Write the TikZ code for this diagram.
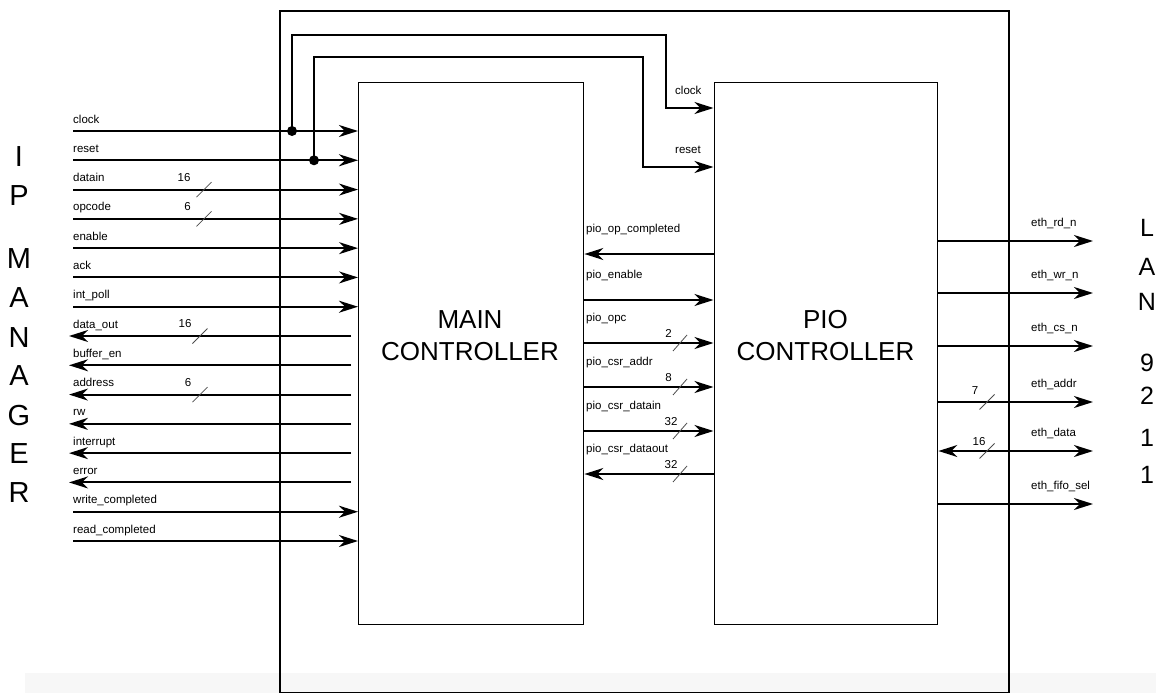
\documentclass[tikz,border=0pt]{standalone}
\usepackage{fontspec}
\setmainfont{Liberation Sans}
\usetikzlibrary{arrows.meta,calc}
\tikzset{
  sig/.style={line width=2pt},
  arr/.style={-{Stealth[length=19pt,width=12pt,inset=6pt]}},
  arrb/.style={{Stealth[length=19pt,width=12pt,inset=6pt]}-{Stealth[length=19pt,width=12pt,inset=6pt]}},
  blk/.style={draw, line width=1.4pt, inner sep=0pt, anchor=north west, minimum height=542pt},
  lbl/.style={font=\fontsize{11.5}{13}\selectfont, inner sep=0pt},
  big/.style={font=\fontsize{26}{32}\selectfont, inner sep=0pt, anchor=base},
  side/.style={font=\fontsize{29}{30}\selectfont, inner sep=0pt, anchor=base},
  sider/.style={font=\fontsize{25}{30}\selectfont, inner sep=0pt, anchor=base},
  bus/.style={line width=0.8pt, gray!60!black},
  dotc/.style={circle, fill=black, minimum size=10pt, inner sep=0pt}
}
\begin{document}
\begin{tikzpicture}[x=1pt,y=-1pt]
\useasboundingbox (0,0) rectangle (1156,693);
% faint band at the bottom
\fill[black!3] (25,673) rectangle (1156,693);
% outer frame
\node[draw, line width=2.4pt, inner sep=0pt, anchor=north west, minimum width=729pt, minimum height=682pt] (outer) at (279,10) {};
% blocks
\node[blk, minimum width=225pt] (main) at (358,82) {};
\node[blk, minimum width=223.5pt] (pio) at (713.5,82) {};
\node[big] (mainA) at (470,328) {MAIN};
\node[big] (mainB) at (470,360) {CONTROLLER};
\node[big] (pioA) at (825.5,328) {PIO};
\node[big] (pioB) at (825.5,360) {CONTROLLER};
% side titles
\foreach \c/\yy [count=\k] in {I/166,P/205,M/268,A/307,N/347,A/385,G/425,E/463,R/502}
  \node[side] (ip\k) at (19,\yy) {\c};
\foreach \c/\yy [count=\k] in {L/236,A/275,N/310,9/371,2/404,1/446,1/483}
  \node[sider] (lan\k) at (1147,\yy) {\c};
% left inputs
\foreach \i/\txt in {0/clock,1/reset,2/datain,3/opcode,4/enable,5/ack,6/int\_poll,13/write\_completed,14/read\_completed}{
  \pgfmathsetmacro\yy{131+29.286*\i}
  \coordinate (l\i) at (73,\yy);
  \node[lbl, anchor=base west] (lt\i) at (73,\yy-8) {\txt};
  \draw[sig,arr] (l\i) -- (l\i -| main.west);
}
% left outputs
\foreach \i/\txt in {7/data\_out,8/buffer\_en,9/address,10/rw,11/interrupt,12/error}{
  \pgfmathsetmacro\yy{131+29.286*\i}
  \coordinate (l\i) at (69,\yy);
  \coordinate (s\i) at ($(l\i -| main.west)+(-7,0)$);
  \node[lbl, anchor=base west] (lt\i) at (73,\yy-8) {\txt};
  \draw[sig,arr] (s\i) -- (l\i);
}
% bus widths on the left
\foreach \i/\n/\nx in {2/16/184,3/6/187.5,7/16/185,9/6/188}{
  \pgfmathsetmacro\yy{131+29.286*\i}
  \draw[bus] ($(l\i)+(123.5,7.5)$) -- ($(l\i)+(138.5,-7.5)$);
  \node[lbl] (ln\i) at (\nx,\yy-12) {\n};
}
% clock and reset to the PIO controller
\node[dotc] (dck) at (292,131) {};
\node[dotc] (drs) at (314,160.29) {};
\coordinate (ckt) at (666,35);
\coordinate (ckp) at (666,108);
\coordinate (rst) at (643,57);
\coordinate (rsp) at (643,167);
\draw[sig,arr] (dck.center) |- (ckt) -- (ckp) -- (ckp -| pio.west);
\draw[sig,arr] (drs.center) |- (rst) -- (rsp) -- (rsp -| pio.west);
\node[lbl, anchor=base west] (ckl) at (675,94) {clock};
\node[lbl, anchor=base west] (rsl) at (675,153) {reset};
% middle signals
\foreach \j/\yy/\txt in {1/254/pio\_op\_completed,2/300/pio\_enable,3/343/pio\_opc,4/387/pio\_csr\_addr,5/431/pio\_csr\_datain,6/474/pio\_csr\_dataout}{
  \coordinate (m\j) at (650,\yy);
  \node[lbl, anchor=base west] (mt\j) at (586,\yy-22) {\txt};
}
\draw[sig,arr] (m1 -| pio.west) -- (m1 -| main.east);
\draw[sig,arr] (m2 -| main.east) -- (m2 -| pio.west);
\draw[sig,arr] (m3 -| main.east) -- (m3 -| pio.west);
\draw[sig,arr] (m4 -| main.east) -- (m4 -| pio.west);
\draw[sig,arr] (m5 -| main.east) -- (m5 -| pio.west);
\draw[sig,arr] (m6 -| pio.west) -- (m6 -| main.east);
\foreach \j/\yy/\n/\nx in {3/343/2/668.5,4/387/8/668.5,5/431/32/671,6/474/32/671}{
  \draw[bus] ($(m\j)+(23,8)$) -- ($(m\j)+(37,-8)$);
  \node[lbl, anchor=base] (mn\j) at (\nx,\yy-6) {\n};
}
% right signals
\foreach \k/\yy/\txt in {1/241/eth\_rd\_n,2/293/eth\_wr\_n,3/346/eth\_cs\_n,4/402/eth\_addr,5/451/eth\_data,6/504/eth\_fifo\_sel}{
  \coordinate (r\k) at (1093,\yy);
  \node[lbl, anchor=base west] (rt\k) at (1031,\yy-15) {\txt};
}
\draw[sig,arr] (r1 -| pio.east) -- (r1);
\draw[sig,arr] (r2 -| pio.east) -- (r2);
\draw[sig,arr] (r3 -| pio.east) -- (r3);
\draw[sig,arr] (r4 -| pio.east) -- (r4);
\draw[sig,arrb] (r5 -| pio.east) -- (r5);
\draw[sig,arr] (r6 -| pio.east) -- (r6);
\foreach \k/\yy/\n/\nx/\ny in {4/402/7/975/391,5/451/16/979/442}{
  \draw[bus] ($(r\k)+(-113.5,7.5)$) -- ($(r\k)+(-98.5,-7.5)$);
  \node[lbl] (rn\k) at (\nx,\ny) {\n};
}
\end{tikzpicture}
\end{document}
